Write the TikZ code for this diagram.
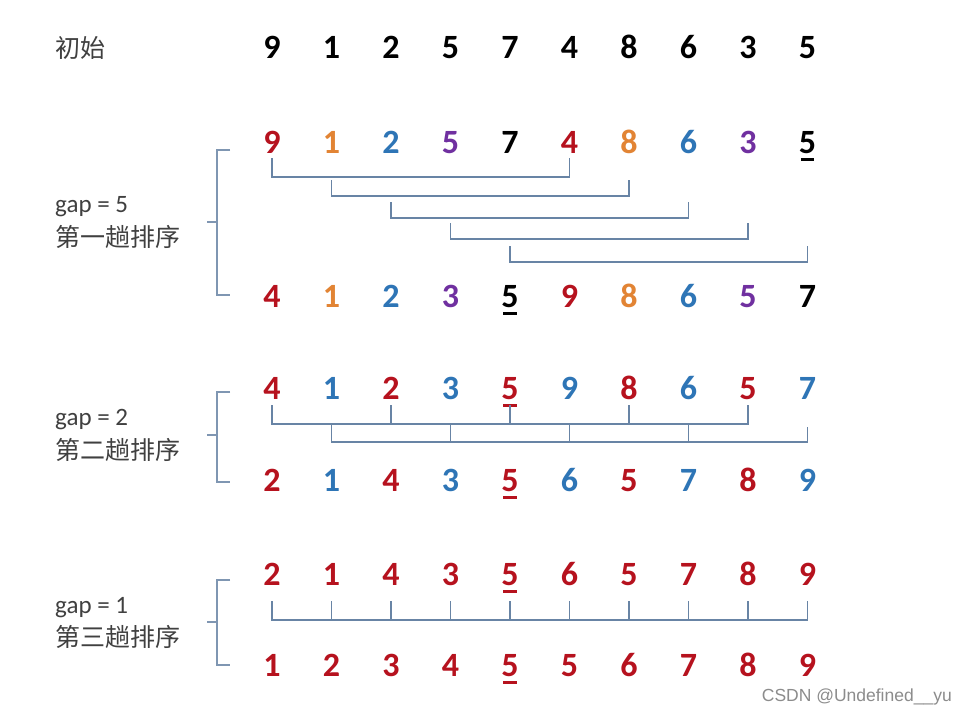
\documentclass[tikz,border=0pt]{standalone}
\usepackage{fontspec}
\setmainfont{Carlito}
\newfontfamily\cjk{Noto Sans CJK SC}
\newfontfamily\wmfont{Liberation Sans}

\definecolor{numred}{RGB}{182,18,30}
\definecolor{numorange}{RGB}{226,132,52}
\definecolor{numblue}{RGB}{46,117,182}
\definecolor{numpurple}{RGB}{112,48,160}
\definecolor{linkblue}{RGB}{104,132,165}
\definecolor{textgray}{RGB}{64,64,64}

\newcommand*{\xZero}{272}
\newcommand*{\xStep}{59.5}
\newcommand*{\yInit}{48}
\newcommand*{\yFt}{143}
\newcommand*{\yFb}{297}
\newcommand*{\ySt}{389}
\newcommand*{\ySb}{481}
\newcommand*{\yTt}{575}
\newcommand*{\yTb}{666}

% underlined digit
\newcommand*{\ulnum}[1]{\setbox0=\hbox{#1}\rlap{\kern0.12\wd0\rule[-7pt]{0.76\wd0}{2.6pt}}\box0}

\tikzset{
  num/.style={font=\fontsize{34}{40}\selectfont\bfseries, inner sep=0pt, text height=21.5pt, text depth=0pt},
  cnlabel/.style={font=\cjk\fontsize{25}{30}\selectfont, text=textgray, inner sep=0pt, anchor=west},
  gaplabel/.style={font=\fontsize{25}{30}\selectfont, text=textgray, inner sep=0pt, anchor=west},
  link/.style={draw=linkblue, line width=1.4pt},
  brace/.style={draw=linkblue!85, line width=1.4pt}
}

\begin{document}
\begin{tikzpicture}[x=1pt,y=-1pt]
\fill[white] (0,0) rectangle (966,716);
\useasboundingbox (0,0) rectangle (966,716);

% labels
\node[cnlabel] (init) at (55,\yInit) {初始};
\node[gaplabel] (gfive) at (55,207) {gap = 5};
\node[cnlabel] (pone) at (55,237) {第一趟排序};
\node[gaplabel] (gtwo) at (55,420) {gap = 2};
\node[cnlabel] (ptwo) at (55,450) {第二趟排序};
\node[gaplabel] (gone) at (55,608) {gap = 1};
\node[cnlabel] (pthree) at (55,637) {第三趟排序};

% initial row
\foreach \d [count=\k from 0] in {9,1,2,5,7,4,8,6,3,5}
  \node[num] (in\k) at (\xZero+\k*\xStep,\yInit) {\d};

% first pass, gap = 5
\foreach \d/\c [count=\k from 0] in {9/numred,1/numorange,2/numblue,5/numpurple,7/black,4/numred,8/numorange,6/numblue,3/numpurple,{\ulnum{5}}/black}
  \node[num,text=\c] (ft\k) at (\xZero+\k*\xStep,\yFt) {\d};
\foreach \d/\c [count=\k from 0] in {4/numred,1/numorange,2/numblue,3/numpurple,{\ulnum{5}}/black,9/numred,8/numorange,6/numblue,5/numpurple,7/black}
  \node[num,text=\c] (fb\k) at (\xZero+\k*\xStep,\yFb) {\d};

\foreach \i/\ytop/\yh in {0/158/177, 1/180/196, 2/202/218, 3/223/239, 4/246/262} {
  \pgfmathtruncatemacro{\j}{\i+5}
  \draw[link] (ft\i |- 0,\ytop) -- (ft\i |- 0,\yh) -| (ft\j |- 0,\ytop);
}

% second pass, gap = 2
\foreach \d/\c [count=\k from 0] in {4/numred,1/numblue,2/numred,3/numblue,{\ulnum{5}}/numred,9/numblue,8/numred,6/numblue,5/numred,7/numblue}
  \node[num,text=\c] (st\k) at (\xZero+\k*\xStep,\ySt) {\d};
\foreach \d/\c [count=\k from 0] in {2/numred,1/numblue,4/numred,3/numblue,{\ulnum{5}}/numred,6/numblue,5/numred,7/numblue,8/numred,9/numblue}
  \node[num,text=\c] (sb\k) at (\xZero+\k*\xStep,\ySb) {\d};

\draw[link] (st0 |- 0,405) -- (st0 |- 0,424) -- (st8 |- 0,424) -- (st8 |- 0,405);
\foreach \i in {2,4,6}
  \draw[link] (st\i |- 0,405) -- (st\i |- 0,424);
\draw[link] (st1 |- 0,424) -- (st1 |- 0,442) -- (st9 |- 0,442) -- (st9 |- 0,427);
\foreach \i in {3,5,7}
  \draw[link] (st\i |- 0,424) -- (st\i |- 0,442);

% third pass, gap = 1
\foreach \d [count=\k from 0] in {2,1,4,3,{\ulnum{5}},6,5,7,8,9}
  \node[num,text=numred] (tt\k) at (\xZero+\k*\xStep,\yTt) {\d};
\foreach \d [count=\k from 0] in {1,2,3,4,{\ulnum{5}},5,6,7,8,9}
  \node[num,text=numred] (tb\k) at (\xZero+\k*\xStep,\yTb) {\d};

\draw[link] (tt0 |- 0,601) -- (tt0 |- 0,620) -- (tt9 |- 0,620) -- (tt9 |- 0,601);
\foreach \i in {1,...,8}
  \draw[link] (tt\i |- 0,601) -- (tt\i |- 0,620);

% brackets
\draw[brace] (230,150) -- (217,150) -- (217,295) -- (230,295);
\draw[brace] (217,222) -- (207,222);
\draw[brace] (230,392) -- (217,392) -- (217,482) -- (230,482);
\draw[brace] (217,435) -- (207,435);
\draw[brace] (230,580) -- (217,580) -- (217,665) -- (230,665);
\draw[brace] (217,622) -- (207,622);

% watermark
\node[font=\wmfont\fontsize{17.5}{20}\selectfont, text=black!45, anchor=east, inner sep=0pt] (mark) at (952,697) {CSDN @Undefined\_\_yu};

\end{tikzpicture}
\end{document}
